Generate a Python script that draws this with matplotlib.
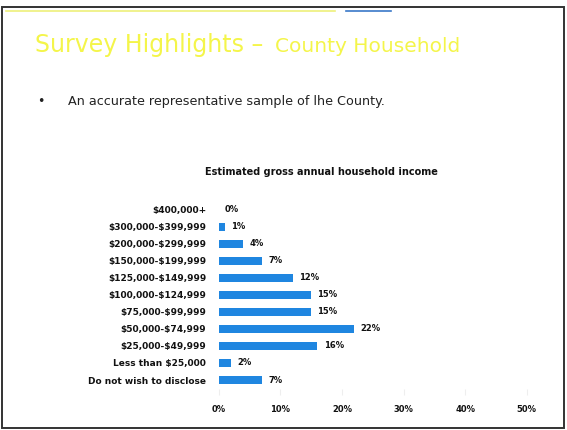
import matplotlib.pyplot as plt
from matplotlib.patches import Rectangle
from matplotlib.lines import Line2D

plt.rcParams["text.parse_math"] = False

# income brackets, top to bottom as on the slide
brackets = [
    "$400,000+",
    "$300,000-$399,999",
    "$200,000-$299,999",
    "$150,000-$199,999",
    "$125,000-$149,999",
    "$100,000-$124,999",
    "$75,000-$99,999",
    "$50,000-$74,999",
    "$25,000-$49,999",
    "Less than $25,000",
    "Do not wish to disclose",
]
shares = [0, 1, 4, 7, 12, 15, 15, 22, 16, 2, 7]
x_ticks = [0, 10, 20, 30, 40, 50]

bar_blue = "#1f86e0"
title_yellow = "#f4f54a"


def main():
    fig = plt.figure(figsize=(5.67, 4.30), dpi=100)
    fig.patch.set_facecolor("white")

    # slide frame
    fig.patches.append(Rectangle((0.004, 0.005), 0.99, 0.978, transform=fig.transFigure,
                                 fill=False, edgecolor="#333333", linewidth=1.4))
    fig.add_artist(Line2D([0.01, 0.59], [0.975, 0.975], transform=fig.transFigure,
                          color="#eef07a", linewidth=1.2))
    fig.add_artist(Line2D([0.61, 0.69], [0.975, 0.975], transform=fig.transFigure,
                          color="#3a78c8", linewidth=1.2))

    # slide heading
    fig.text(0.062, 0.895, "Survey Highlights \u2013", color=title_yellow, fontsize=17,
             family="DejaVu Sans", va="center", ha="left")
    fig.text(0.485, 0.893, "County Household", color=title_yellow, fontsize=14.5,
             family="DejaVu Sans", va="center", ha="left")

    fig.text(0.066, 0.765, "\u2022", color="#222222", fontsize=9, va="center")
    fig.text(0.12, 0.765, "An accurate representative sample of lhe County.", color="#222222",
             fontsize=9.2, family="DejaVu Sans", va="center", ha="left")

    fig.text(0.567, 0.60, "Estimated gross annual household income", color="#111111",
             fontsize=7, fontweight="heavy", va="center", ha="center")

    ax = fig.add_axes([0.386, 0.0965, 0.543, 0.435])
    y = list(range(len(brackets)))
    ax.barh(y, shares, height=0.42, color=bar_blue)
    for yi, v in zip(y, shares):
        ax.text(v + 1.0, yi, f"{v}%", va="center", ha="left", fontsize=6,
                fontweight="heavy", color="#111111")

    ax.set_ylim(len(brackets) - 0.5, -0.5)
    ax.set_yticks(y)
    ax.set_yticklabels(brackets, fontsize=6.5, fontweight="heavy", color="#111111")
    ax.set_xlim(0, 50)
    ax.set_xticks(x_ticks)
    ax.set_xticklabels([f"{t}%" for t in x_ticks], fontsize=6, fontweight="heavy",
                       color="#111111")
    ax.tick_params(axis="y", length=0, pad=9)
    ax.tick_params(axis="x", length=4, color="#eeeeee", pad=8)
    for s in ax.spines.values():
        s.set_visible(False)

    fig.savefig("out.png", dpi=100, facecolor="white")


if __name__ == "__main__":
    main()
